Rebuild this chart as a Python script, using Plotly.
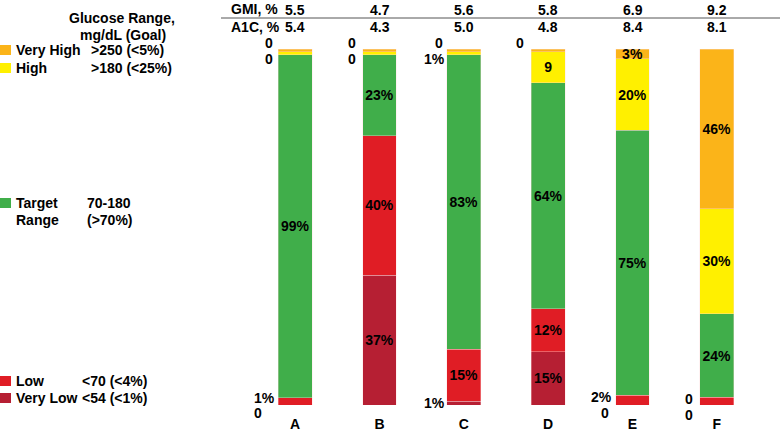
import plotly.graph_objects as go

# ---------------- data ----------------
categories = ["A", "B", "C", "D", "E", "F"]
gmi = ["5.5", "4.7", "5.6", "5.8", "6.9", "9.2"]
a1c = ["5.4", "4.3", "5.0", "4.8", "8.4", "8.1"]

# drawn segment heights (% of bar), bottom to top
very_low = [0, 36.5, 1.1, 15, 0, 0]
low = [2, 39.2, 14.6, 12, 2.8, 2.2]
target = [96.4, 22.7, 82.7, 63.5, 74.4, 23.4]
high = [0.8, 0.8, 0.8, 8.7, 20, 29.5]
very_high = [0.8, 0.8, 0.8, 0.8, 2.8, 44.9]

# printed labels inside the segments
very_low_txt = ["", "37%", "", "15%", "", ""]
low_txt = ["", "40%", "15%", "12%", "", ""]
target_txt = ["99%", "23%", "83%", "64%", "75%", "24%"]
high_txt = ["", "", "", "9", "20%", "30%"]
very_high_txt = ["", "", "", "", "3%", "46%"]

# printed labels outside the bars
top_txt = [["0", "0"], ["0", "0"], ["0", "1%"], ["0"], [], []]
bottom_txt = [["1%", "0"], [], ["1%"], [], ["2%", "0"], ["0", "0"]]

legend_names = ["Very High", "High", "Target\nRange", "Low", "Very Low"]
legend_ranges = [">250 (<5%)", ">180 (<25%)", "70-180\n(>70%)", "<70 (<4%)", "<54 (<1%)"]

# ---------------- style ----------------
C_VH = "#FBB419"
C_H = "#FFF000"
C_T = "#40AE4A"
C_L = "#E01D25"
C_VL = "#B61F33"
colors = [C_VH, C_H, C_T, C_L, C_VL]
FONT = "Liberation Sans, Arial, sans-serif"
FS = 14

W, H = 780, 436
L_PX, R_PX, T_PX, B_PX = 253, 759, 49, 405


def px_x(px):
    return (px - L_PX) / (R_PX - L_PX)


def px_y(py):
    return (B_PX - py) / (B_PX - T_PX)


fig = go.Figure()
series = [
    ("Very Low", very_low, very_low_txt, C_VL),
    ("Low", low, low_txt, C_L),
    ("Target", target, target_txt, C_T),
    ("High", high, high_txt, C_H),
    ("Very High", very_high, very_high_txt, C_VH),
]
for name, vals, txt, col in series:
    fig.add_trace(go.Bar(
        x=categories, y=vals, name=name, text=txt,
        textposition="inside", insidetextanchor="middle", textangle=0,
        textfont=dict(family=FONT, size=FS, color="black", weight="bold"),
        marker=dict(color=col, line=dict(color="rgba(255,220,220,0.6)", width=0.6)),
        showlegend=False, hoverinfo="skip",
    ))

ann = []
bold = dict(family=FONT, size=FS, color="black", weight="bold")

# header rows
ann.append(dict(x=px_x(229), y=px_y(9), xref="paper", yref="paper", text="GMI, %",
                xanchor="left", yanchor="middle", showarrow=False, font=bold))
ann.append(dict(x=px_x(229), y=px_y(27), xref="paper", yref="paper", text="A1C, %",
                xanchor="left", yanchor="middle", showarrow=False, font=bold))
for i, c in enumerate(categories):
    ann.append(dict(x=c, y=px_y(10), xref="x", yref="paper", text=gmi[i],
                    xanchor="center", yanchor="middle", showarrow=False, font=bold))
    ann.append(dict(x=c, y=px_y(27), xref="x", yref="paper", text=a1c[i],
                    xanchor="center", yanchor="middle", showarrow=False, font=bold))

# top outside labels
top_xshift = [-20, -22, -19, -22, 0, 0]
for i, labels in enumerate(top_txt):
    for j, t in enumerate(labels):
        xs = top_xshift[i]
        if i == 2 and j == 1:
            xs = -17
        ann.append(dict(x=categories[i], y=px_y(43 if j == 0 else 59), xref="x", yref="paper",
                        text=t, xanchor="right", yanchor="middle", showarrow=False,
                        xshift=xs, font=bold))

# bottom outside labels
bottom_pos = {
    0: [(-43, 398, "left"), (-43, 413, "left")],
    2: [(-17, 403, "right")],
    4: [(-19, 397, "right"), (-28, 413, "center")],
    5: [(-22, 399, "right"), (-22, 415, "right")],
}
for i, labels in enumerate(bottom_txt):
    for j, t in enumerate(labels):
        xs, py, anc = bottom_pos[i][j]
        ann.append(dict(x=categories[i], y=px_y(py), xref="x", yref="paper", text=t,
                        xanchor=anc, yanchor="middle", showarrow=False, xshift=xs, font=bold))

# left legend
ann.append(dict(x=px_x(122), y=px_y(18), xref="paper", yref="paper", text="Glucose Range,",
                xanchor="center", yanchor="middle", showarrow=False, font=bold))
ann.append(dict(x=px_x(123), y=px_y(35), xref="paper", yref="paper", text="mg/dL (Goal)",
                xanchor="center", yanchor="middle", showarrow=False, font=bold))

leg_y = [50, 68, 203, 381, 398]
range_x = [89, 89, 85, 80, 80]
shapes = []
for k in range(5):
    y0 = leg_y[k]
    shapes.append(dict(type="rect", xref="paper", yref="paper",
                       x0=px_x(0), x1=px_x(11), y0=px_y(y0 + 5), y1=px_y(y0 - 5),
                       fillcolor=colors[k], line=dict(width=0)))
    name_lines = legend_names[k].split("\n")
    rng_lines = legend_ranges[k].split("\n")
    for li, t in enumerate(name_lines):
        ann.append(dict(x=px_x(14), y=px_y(y0 + li * 17), xref="paper", yref="paper", text=t,
                        xanchor="left", yanchor="middle", showarrow=False, font=bold))
    for li, t in enumerate(rng_lines):
        ann.append(dict(x=px_x(range_x[k]), y=px_y(y0 + li * 17), xref="paper", yref="paper", text=t,
                        xanchor="left", yanchor="middle", showarrow=False, font=bold))

# separator line in header
shapes.append(dict(type="line", xref="paper", yref="paper", x0=px_x(221), x1=px_x(780),
                   y0=px_y(18), y1=px_y(18), line=dict(color="#555555", width=1)))

fig.update_layout(
    width=W, height=H,
    margin=dict(l=L_PX, r=W - R_PX, t=T_PX, b=H - B_PX, autoexpand=False),
    barmode="stack", bargap=0.6,
    plot_bgcolor="white", paper_bgcolor="white",
    uniformtext=dict(minsize=FS, mode="show"),
    annotations=ann, shapes=shapes,
    xaxis=dict(showgrid=False, zeroline=False, showline=False, automargin=False,
               ticks="", ticklabelstandoff=9,
               tickfont=dict(family=FONT, size=FS, color="black", weight="bold"),
               range=[-0.5, 5.5]),
    yaxis=dict(visible=False, range=[0, 100]),
)

fig.write_html("out.html", config={"displayModeBar": False},
               post_script="document.body.style.margin='0';document.body.style.overflow='hidden';")
